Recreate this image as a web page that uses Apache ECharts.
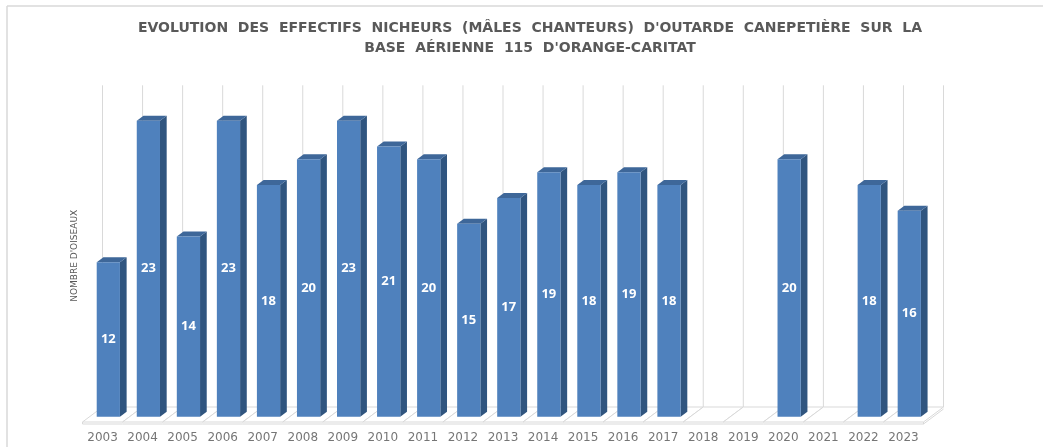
<!DOCTYPE html>
<html>
<head>
<meta charset="utf-8">
<title>Outarde canepetière – BA 115</title>
<script src="https://cdn.jsdelivr.net/npm/echarts@6/dist/echarts.min.js"></script>
<style>
  html, body { margin: 0; padding: 0; background: #ffffff; }
  #chart { width: 1043px; height: 447px; }
</style>
</head>
<body>
<div id="chart"></div>
<script>
// Years surveyed and number of singing males (null = no count)
const years = ['2003', '2004', '2005', '2006', '2007', '2008', '2009', '2010', '2011', '2012',
  '2013', '2014', '2015', '2016', '2017', '2018', '2019', '2020', '2021', '2022', '2023'];
const males = [12, 23, 14, 23, 18, 20, 23, 21, 20, 15, 17, 19, 18, 19, 18, null, null, 20, null, 18, 16];
const valueMax = 25;

const titleText = 'EVOLUTION  DES  EFFECTIFS  NICHEURS  (MÂLES  CHANTEURS)  D\'OUTARDE  CANEPETIÈRE  SUR  LA\nBASE  AÉRIENNE  115  D\'ORANGE-CARITAT';
const axisTitle = 'NOMBRE D\'OISEAUX';

const FRONT = '#4f81bd', SIDE = '#30557f', TOP = '#3e6799';
const LINE = '#d9d9d9';

const chart = echarts.init(document.getElementById('chart'), null, { renderer: 'canvas' });

// floor cells and back wall lines of the pseudo-3D box
function renderFloor(params, api) {
  const i = api.value(0);
  const c = api.coord([i, 0]);
  const top = api.coord([i, valueMax]);
  const bw = api.size([1, 0])[0];
  const dx = bw * 0.5, yFront = c[1] + 5.3, yBack = c[1] - 9.7;
  const xl = c[0] - bw / 2, xr = c[0] + bw / 2;
  const st = { stroke: LINE, lineWidth: 1, fill: null };
  const kids = [
    { type: 'polygon', shape: { points: [[xl, yFront], [xr, yFront], [xr + dx, yBack], [xl + dx, yBack]] },
      style: { fill: '#ffffff', stroke: LINE, lineWidth: 1 } },
    { type: 'line', shape: { x1: xl, y1: yFront + 2, x2: xr, y2: yFront + 2 }, style: st },
    { type: 'line', shape: { x1: xl + dx, y1: yBack, x2: xl + dx, y2: top[1] - 9.7 }, style: st }
  ];
  if (i === 0) {
    kids.push({ type: 'line', shape: { x1: xl, y1: yFront, x2: xl, y2: yFront + 2 }, style: st });
  }
  if (i === years.length - 1) {
    kids.push({ type: 'line', shape: { x1: xr + dx, y1: yBack, x2: xr + dx, y2: top[1] - 9.7 }, style: st });
    kids.push({ type: 'line', shape: { x1: xr, y1: yFront, x2: xr, y2: yFront + 2 }, style: st });
    kids.push({ type: 'line', shape: { x1: xr, y1: yFront + 2, x2: xr + dx, y2: yBack + 2 }, style: st });
  }
  return { type: 'group', children: kids };
}

// a column drawn as front, side and top faces, with its value inside
function renderColumn(params, api) {
  const v = api.value(1);
  if (v === null || v === undefined || isNaN(v)) return;
  const i = api.value(0);
  const base = api.coord([i, 0]);
  const peak = api.coord([i, v]);
  const bw = api.size([1, 0])[0];
  const x0 = base[0] - bw * 0.145;
  const x1 = x0 + bw * 0.58;
  const dx = bw * 0.167, dy = -5;
  const y0 = base[1], yt = peak[1];
  return {
    type: 'group',
    children: [
      { type: 'polygon', shape: { points: [[x1, yt], [x1, y0], [x1 + dx, y0 + dy], [x1 + dx, yt + dy]] },
        style: { fill: SIDE } },
      { type: 'polygon', shape: { points: [[x0, yt], [x1, yt], [x1 + dx, yt + dy], [x0 + dx, yt + dy]] },
        style: { fill: TOP } },
      { type: 'rect', shape: { x: x0, y: yt, width: x1 - x0, height: y0 - yt },
        style: { fill: FRONT } },
      { type: 'text', x: (x0 + x1) / 2, y: (yt + y0) / 2,
        style: { text: String(v), fill: '#ffffff', font: 'bold 13px "Open Sans"', align: 'center', verticalAlign: 'middle' } }
    ]
  };
}

chart.setOption({
  animation: false,
  backgroundColor: '#ffffff',
  title: {
    text: titleText,
    left: 530,
    top: 18,
    textAlign: 'center',
    padding: 0,
    textStyle: { color: '#595959', fontFamily: 'DejaVu Sans', fontWeight: 'bold', fontSize: 14, lineHeight: 20 }
  },
  graphic: [
    { type: 'line', shape: { x1: 7, y1: 6, x2: 1043, y2: 6 }, style: { stroke: '#d9d9d9', lineWidth: 1.5 } },
    { type: 'line', shape: { x1: 7, y1: 6, x2: 7, y2: 447 }, style: { stroke: '#d9d9d9', lineWidth: 1.5 } }
  ],
  grid: { left: 82.5, right: 119.5, top: 95, bottom: 30.3 },
  xAxis: {
    type: 'category',
    data: years,
    axisLine: { show: false },
    axisTick: { show: false },
    splitLine: { show: false },
    axisLabel: { color: '#767676', fontFamily: 'DejaVu Sans', fontSize: 12, margin: 15, interval: 0 }
  },
  yAxis: {
    type: 'value',
    min: 0,
    max: valueMax,
    interval: 5,
    axisLine: { show: false },
    axisTick: { show: false },
    axisLabel: { show: false },
    splitLine: { show: false },
    name: axisTitle,
    nameLocation: 'middle',
    nameRotate: 90,
    nameGap: 3,
    nameTextStyle: { color: '#595959', fontFamily: 'DejaVu Sans', fontSize: 9 }
  },
  series: [
    {
      type: 'custom',
      name: 'floor',
      z: 1,
      silent: true,
      renderItem: renderFloor,
      data: years.map((y, i) => [i]),
      encode: { x: 0 }
    },
    {
      type: 'custom',
      name: 'Mâles chanteurs',
      z: 2,
      renderItem: renderColumn,
      data: years.map((y, i) => [i, males[i]]),
      encode: { x: 0, y: 1 }
    }
  ]
});
</script>
</body>
</html>
